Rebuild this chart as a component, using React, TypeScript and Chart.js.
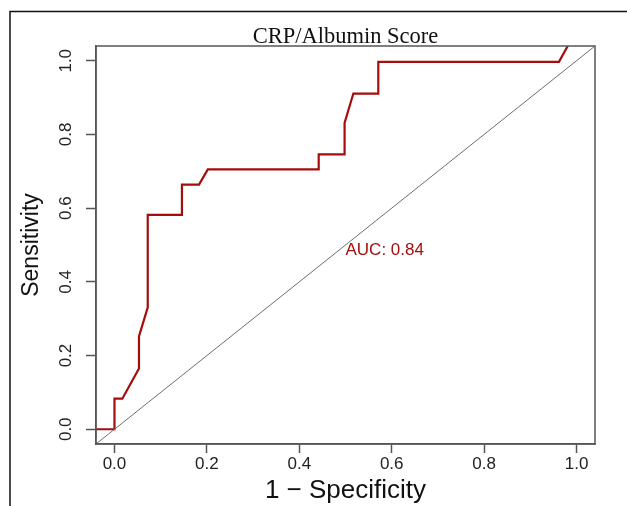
import React, { useEffect, useRef } from "react";
import { Chart, registerables } from "chart.js";

Chart.register(...registerables);

// ROC curve (1 - specificity, sensitivity)
const rocFpr = [-0.04, 0.0, 0.0, 0.017, 0.053, 0.053, 0.072, 0.072, 0.146, 0.146, 0.183, 0.202, 0.442, 0.442, 0.498, 0.498, 0.517, 0.571, 0.571, 0.962, 0.981];
const rocTpr = [0.0, 0.0, 0.083, 0.083, 0.165, 0.252, 0.331, 0.582, 0.582, 0.664, 0.664, 0.705, 0.705, 0.746, 0.746, 0.831, 0.911, 0.911, 0.997, 0.997, 1.04];

// chance diagonal
const diagX = [-0.04, 1.04];
const diagY = [-0.04, 1.04];

const axisMin = -0.04;
const axisMax = 1.04;
const tickValues = [0, 0.2, 0.4, 0.6, 0.8, 1.0];
const tickLabels = ["0.0", "0.2", "0.4", "0.6", "0.8", "1.0"];

const titleText = "CRP/Albumin Score";
const xTitle = "1 \u2212 Specificity";
const yTitle = "Sensitivity";
const aucLabel = "AUC: 0.84";
const aucX = 0.5;
const aucY = 0.485;

const RED = "#a50d0d";
const AXIS = "#555555";

const decoPlugin = {
  id: "deco",
  beforeDraw(chart: any) {
    const { ctx } = chart;
    ctx.save();
    ctx.strokeStyle = "#111";
    ctx.lineWidth = 1.5;
    ctx.beginPath();
    ctx.moveTo(10, 506);
    ctx.lineTo(10, 11.5);
    ctx.lineTo(627, 11.5);
    ctx.stroke();
    ctx.restore();
  },
  afterDraw(chart: any) {
    const { ctx, chartArea: a, scales } = chart;
    ctx.save();
    // plot box
    ctx.strokeStyle = AXIS;
    ctx.lineWidth = 1.5;
    ctx.strokeRect(a.left, a.top, a.right - a.left, a.bottom - a.top);
    // title
    ctx.fillStyle = "#111";
    ctx.font = '22.5px "Liberation Serif"';
    ctx.textAlign = "center";
    ctx.textBaseline = "middle";
    ctx.fillText(titleText, (a.left + a.right) / 2, 37);
    // y tick labels (rotated, as in R)
    ctx.font = '17px "Liberation Sans"';
    ctx.fillStyle = "#222";
    scales.y.ticks.forEach((t: any, i: number) => {
      const py = scales.y.getPixelForValue(t.value);
      ctx.save();
      ctx.translate(66, py);
      ctx.rotate(-Math.PI / 2);
      ctx.fillText(tickLabels[i], 0, 0);
      ctx.restore();
    });
    // AUC text
    ctx.font = '17px "Liberation Sans"';
    ctx.fillStyle = RED;
    ctx.textAlign = "left";
    ctx.fillText(aucLabel, scales.x.getPixelForValue(aucX), scales.y.getPixelForValue(aucY));
    ctx.restore();
  },
};

export default function App() {
  const ref = useRef<HTMLCanvasElement>(null);
  useEffect(() => {
    if (!ref.current) return;
    const chart = new Chart(ref.current, {
      type: "scatter",
      data: {
        datasets: [
          {
            label: "diag",
            data: diagX.map((x, i) => ({ x, y: diagY[i] })),
            showLine: true,
            borderColor: "#6e6e6e",
            borderWidth: 1,
            pointRadius: 0,
            clip: 0,
          },
          {
            label: "ROC",
            data: rocFpr.map((x, i) => ({ x, y: rocTpr[i] })),
            showLine: true,
            borderColor: RED,
            borderWidth: 2.2,
            pointRadius: 0,
            tension: 0,
            clip: 0,
          },
        ],
      },
      options: {
        animation: false,
        responsive: false,
        events: [],
        layout: { padding: { left: 0, top: 46, right: 32, bottom: 0 } },
        plugins: { legend: { display: false }, tooltip: { enabled: false }, title: { display: false } },
        scales: {
          x: {
            type: "linear",
            min: axisMin,
            max: axisMax,
            afterBuildTicks: (s: any) => {
              s.ticks = tickValues.map((v) => ({ value: v }));
            },
            afterFit: (s: any) => {
              s.height = 62;
            },
            grid: { drawOnChartArea: false, drawTicks: true, tickLength: 9, color: AXIS, tickColor: AXIS, tickWidth: 1.5 },
            border: { display: true, color: AXIS, width: 1.5 },
            ticks: {
              autoSkip: false,
              maxRotation: 0,
              padding: 1,
              color: "#222",
              font: { family: "Liberation Sans", size: 17 },
              callback: (_v: any, i: number) => tickLabels[i],
            },
            title: {
              display: true,
              text: xTitle,
              color: "#111",
              font: { family: "Liberation Sans", size: 26 },
              padding: { top: 0, bottom: 0 },
            },
          },
          y: {
            type: "linear",
            min: axisMin,
            max: axisMax,
            afterBuildTicks: (s: any) => {
              s.ticks = tickValues.map((v) => ({ value: v }));
            },
            afterFit: (s: any) => {
              s.width = 96;
            },
            grid: { drawOnChartArea: false, drawTicks: true, tickLength: 10, color: AXIS, tickColor: AXIS, tickWidth: 1.5 },
            border: { display: true, color: AXIS, width: 1.5 },
            ticks: { display: false },
            title: {
              display: true,
              text: yTitle,
              color: "#111",
              font: { family: "Liberation Sans", size: 23 },
              padding: { top: 18, bottom: 0 },
            },
          },
        },
      },
      plugins: [decoPlugin],
    });
    return () => chart.destroy();
  }, []);
  return (
    <div style={{ position: "fixed", left: 0, top: 0, width: 627, height: 506, background: "#fff" }}>
      <canvas ref={ref} width={627} height={506} />
    </div>
  );
}
